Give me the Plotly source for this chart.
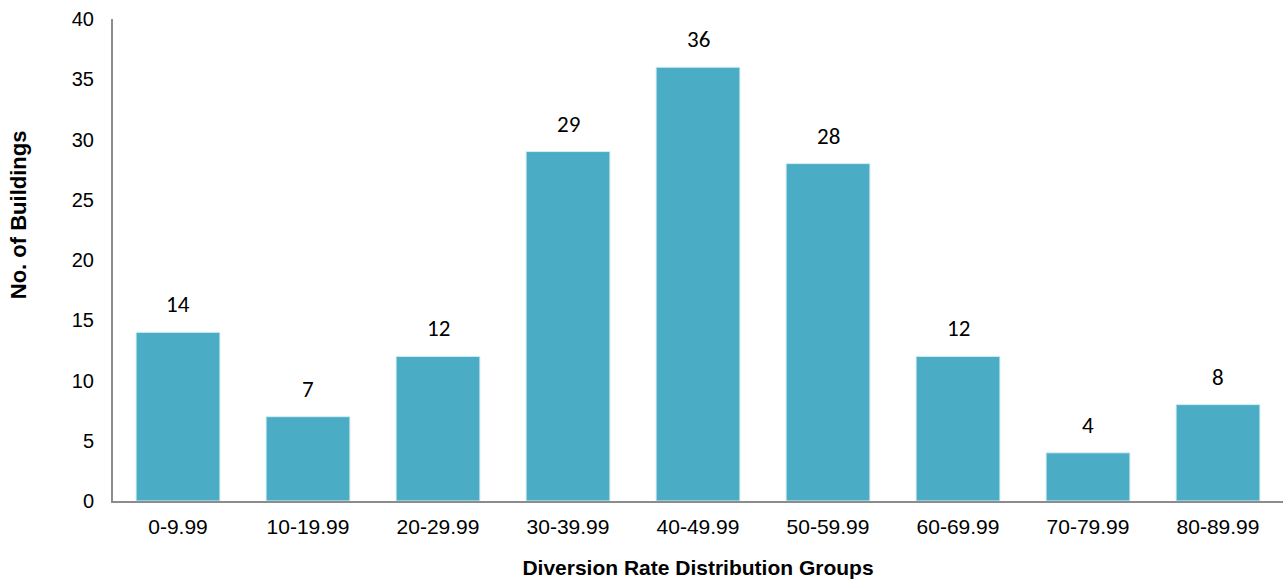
import plotly.graph_objects as go

# Diversion rate groups and number of buildings in each group
groups = ["0-9.99", "10-19.99", "20-29.99", "30-39.99", "40-49.99",
          "50-59.99", "60-69.99", "70-79.99", "80-89.99"]
buildings = [14, 7, 12, 29, 36, 28, 12, 4, 8]

fig = go.Figure()
fig.add_trace(go.Bar(
    x=groups,
    y=buildings,
    marker=dict(color="#4BACC6", line=dict(color="#D6EEF4", width=1)),
    width=0.645,
    hoverinfo="x+y",
))

# Value labels above each bar
for g, v in zip(groups, buildings):
    fig.add_annotation(
        x=g, y=v, text=str(v), showarrow=False,
        yanchor="bottom", yshift=12,
        font=dict(family="Carlito, Lato, 'Open Sans', sans-serif", size=23, color="#000000"),
    )

# Vertical axis title, placed slightly above the plot's middle
fig.add_annotation(
    xref="paper", yref="paper", x=-0.0812, y=0.595,
    xanchor="center", yanchor="middle", textangle=-90,
    text="<b>No. of Buildings</b>", showarrow=False,
    font=dict(family="Liberation Sans, Arial, sans-serif", size=22, color="#000000"),
)

fig.update_layout(
    width=1283, height=583,
    margin=dict(l=113, r=0, t=19, b=82),
    plot_bgcolor="white", paper_bgcolor="white",
    showlegend=False,
    font=dict(family="Liberation Sans, Arial, sans-serif", color="#000000"),
    xaxis=dict(
        showline=True, linecolor="#8C8C8C", linewidth=2,
        showgrid=False, ticks="outside", ticklen=6, tickcolor="rgba(0,0,0,0)",
        tickfont=dict(size=21),
        title=dict(text="<b>Diversion Rate Distribution Groups</b>", font=dict(size=21), standoff=23),
    ),
    yaxis=dict(
        range=[0, 40], dtick=5,
        showline=True, linecolor="#8C8C8C", linewidth=2,
        showgrid=False, zeroline=False,
        ticks="outside", ticklen=13, tickcolor="rgba(0,0,0,0)",
        tickfont=dict(size=20),
    ),
)

fig.write_html("out.html")
